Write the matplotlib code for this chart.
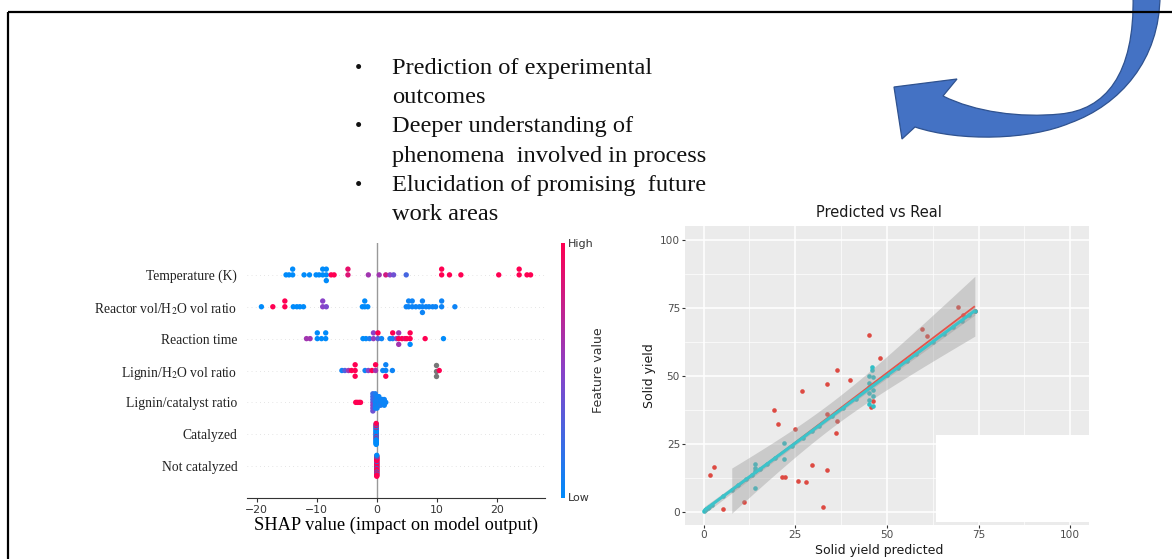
import numpy as np
import matplotlib
matplotlib.use("Agg")
import matplotlib.pyplot as plt
from matplotlib.colors import LinearSegmentedColormap
from matplotlib.path import Path
from matplotlib.patches import PathPatch, Rectangle

plt.rcParams['mathtext.fontset'] = 'stix'
plt.rcParams['font.family'] = ['DejaVu Sans']

W, H = 1172, 559
SERIF = 'Liberation Serif'

# ---------------- text data ----------------
bullet_lines = ["Prediction of experimental", "outcomes",
                "Deeper understanding of", "phenomena  involved in process",
                "Elucidation of promising  future", "work areas"]
bullet_marks = [True, False, True, False, True, False]

# ---------------- SHAP summary data ----------------
shap_features = ["Temperature (K)", "Reactor vol/H$_2$O vol ratio", "Reaction time",
                 "Lignin/H$_2$O vol ratio", "Lignin/catalyst ratio", "Catalyzed", "Not catalyzed"]

temp_shap = [-15.1, -14.6, -14.0, -14.0, -12.1, -11.2, -10.1, -9.6, -9.0, -9.0, -8.4, -8.4, -8.4,
             -7.6, -7.1, -4.8, -4.8, -1.4, 0.4, 1.5, 2.2, 2.8, 4.9,
             10.8, 10.8, 12.1, 14.0, 20.3, 23.7, 23.7, 25.0, 25.6]
temp_feat = [0.0, 0.0, 0.0, 0.0, 0.0, 0.0, 0.0, 0.0, 0.0, 0.0, 0.0, 0.0, 0.0,
             1.0, 1.0, 0.85, 0.9, 0.6, 0.6, 0.8, 0.5, 0.4, 0.25,
             1.0, 1.0, 1.0, 1.0, 1.0, 1.0, 1.0, 1.0, 1.0]

react_shap = [-19.2, -17.3, -15.3, -15.3, -13.9, -13.3, -12.8, -12.2, -9.0, -9.0, -8.4,
              -2.4, -2.0, -2.0, -1.5, 4.9, 5.3, 5.3, 5.9, 5.9, 6.5, 7.1, 7.6, 7.6, 7.6,
              8.2, 8.7, 9.3, 9.8, 10.8, 10.8, 13.0]
react_feat = [0.0, 1.0, 1.0, 1.0, 0.0, 0.0, 0.0, 0.0, 0.5, 0.5, 0.45,
              0.0, 0.0, 0.0, 0.0, 0.05, 0.05, 0.05, 0.05, 0.05, 0.05, 0.05, 0.05, 0.05, 0.05,
              0.05, 0.05, 0.05, 0.05, 0.05, 0.05, 0.05]

rt_shap = [-11.7, -11.1, -9.9, -9.9, -9.2, -8.5, -8.5, -2.3, -1.8, -1.2, -0.55, -0.55,
           0.2, 0.2, 0.8, 2.2, 2.65, 2.65, 3.3, 3.65, 3.65, 3.65, 4.2, 4.7, 5.0,
           5.55, 5.55, 5.55, 8.05, 11.1]
rt_feat = [0.6, 0.6, 0.0, 0.0, 0.0, 0.0, 0.0, 0.0, 0.0, 0.1, 0.55, 0.5,
           0.3, 1.0, 0.05, 0.05, 0.1, 1.0, 0.5, 1.0, 0.6, 0.6, 1.0, 0.9, 1.0,
           1.0, 1.0, 0.0, 1.0, 0.0]

lh_shap = [-5.8, -5.3, -4.7, -4.2, -3.6, -3.6, -3.6, -1.95, -1.4, -0.8, -0.2, -0.2,
           1.0, 1.5, 1.5, 1.5, 2.6, 9.8, 9.8, 9.8, 10.4]
lh_feat = [0.05, 0.3, 0.6, 1.0, 1.0, 1.0, 1.0, 0.05, 0.5, 1.0, 0.6, 1.0,
           0.05, 0.05, 0.05, 1.0, 0.05, np.nan, np.nan, np.nan, 1.0]

lc_shap = [-3.5, -3.25, -2.95, -2.7,
           -0.65, -0.65, -0.65, -0.65, -0.65, -0.65, -0.65,
           -0.25, -0.25, -0.25, -0.25, -0.25, -0.25,
           0.05, 0.05, 0.05, 0.05, 0.05,
           0.35, 0.35, 0.35, 0.35,
           0.65, 0.65, 0.65, 0.95, 0.95, 1.25, 1.25, 1.25, 1.5]
lc_feat = [1.0, 1.0, 1.0, 1.0,
           0.45, 0.3, 0.5, 0.25, 0.45, 0.2, 0.4,
           0.05, 0.1, 0.05, 0.15, 0.05, 0.1,
           0.05, 0.05, 0.1, 0.05, 0.05,
           0.05, 0.1, 0.05, 0.05,
           0.05, 0.05, 0.1, 0.05, 0.05, 0.05, 0.05, 0.05, 0.05]

cat_shap = [-0.1, -0.1, -0.1, -0.1, -0.1, -0.1, -0.1, -0.1, -0.1, -0.1, -0.1, -0.1, -0.1, -0.1, -0.1, -0.1,
            -0.1, -0.1, -0.1, -0.1, -0.1, -0.1, -0.1, -0.1, -0.1, -0.1, -0.1, -0.1, -0.1, -0.1, -0.1, -0.1]
cat_feat = [0, 0, 0, 1, 0, 0, 0, 0, 1, 0, 0, 0, 0, 0, 1, 0,
            0, 0, 0, 1, 0, 0, 0, 0, 0, 1, 0, 1, 0, 0, 0, 1]

notcat_shap = [0.0, 0.0, 0.0, 0.0, 0.0, 0.0, 0.0, 0.0, 0.0, 0.0, 0.0, 0.0, 0.0, 0.0, 0.0, 0.0,
               0.0, 0.0, 0.0, 0.0, 0.0, 0.0, 0.0, 0.0, 0.0, 0.0, 0.0, 0.0, 0.0, 0.0, 0.0, 0.0]
notcat_feat = [1, 1, 1, 0, 1, 1, 1, 1, 0, 1, 1, 1, 1, 0, 1, 1,
               1, 1, 0, 1, 1, 1, 1, 1, 0, 1, 1, 0, 1, 1, 1, 0]

shap_rows = [temp_shap, react_shap, rt_shap, lh_shap, lc_shap, cat_shap, notcat_shap]
feat_rows = [temp_feat, react_feat, rt_feat, lh_feat, lc_feat, cat_feat, notcat_feat]
shap_xticks = [-20, -10, 0, 10, 20]

# ---------------- Predicted vs Real data ----------------
red_pred = [1.8, 2.95, 5.4, 11.1, 19.3, 20.4, 21.3, 22.3, 25.0, 25.7, 26.9, 27.9, 29.6, 32.5,
            33.7, 33.7, 33.7, 36.3, 36.3, 36.0, 40.0, 45.1, 46.1, 45.6, 48.1, 59.5, 60.9,
            69.5, 74.0, 70.8]
red_real = [13.4, 16.5, 0.8, 3.4, 37.4, 32.2, 12.8, 12.8, 30.5, 11.3, 44.5, 11.0, 17.2, 1.5,
            47.0, 15.4, 35.8, 52.1, 33.5, 29.0, 48.4, 65.0, 40.8, 38.6, 56.4, 67.3, 64.6,
            75.2, 73.8, 72.5]
red_fit_range = [7.7, 74.0]

cyan_pred = [0.2, 0.5, 0.8, 1.2, 1.6, 2.2, 5.3, 7.8, 9.5, 11.5, 13.2, 15.5, 17.2, 19.6, 24.0,
             27.0, 29.5, 31.5, 35.0, 38.0, 41.5, 50.0, 53.0, 55.5, 58.0, 62.5, 65.5, 68.0,
             70.5, 72.5, 74.0,
             14.1, 14.1, 14.1, 14.1, 22.0, 22.0,
             46.0, 46.0, 45.0, 46.3, 45.0, 45.0, 46.3, 45.0, 46.3, 45.0, 45.0, 46.3]
cyan_real = [0.3, 0.6, 1.0, 1.3, 1.8, 2.4, 5.6, 8.0, 9.6, 11.8, 13.6, 15.8, 17.6, 19.8, 24.2,
             27.2, 29.8, 31.6, 35.2, 38.2, 41.6, 50.2, 53.0, 55.6, 58.0, 62.4, 65.4, 67.8,
             70.3, 72.3, 73.8,
             17.4, 16.2, 15.0, 8.5, 25.3, 19.2,
             53.3, 52.1, 49.9, 49.4, 47.5, 45.8, 44.8, 43.6, 42.4, 41.2, 39.7, 39.0]
reg_ticks = [0, 25, 50, 75, 100]
reg_minor = [12.5, 37.5, 62.5, 87.5]


# ---------------- helpers ----------------
def swarm_offsets(vals, row_height=0.4, nbins=100):
    vals = np.asarray(vals, float)
    n = len(vals)
    quant = np.round(nbins * (vals - vals.min()) / (vals.max() - vals.min() + 1e-8))
    inds = np.argsort(quant, kind='stable')
    layer, last_bin = 0, -1
    ys = np.zeros(n)
    for ind in inds:
        if quant[ind] != last_bin:
            layer = 0
        ys[ind] = np.ceil(layer / 2) * ((layer % 2) * 2 - 1)
        layer += 1
        last_bin = quant[ind]
    ys *= 0.9 * (row_height / np.max(ys + 1))
    return ys


def lm_band(x, y, xs):
    x = np.asarray(x, float); y = np.asarray(y, float)
    n = len(x)
    b, a = np.polyfit(x, y, 1)
    resid = y - (a + b * x)
    s = np.sqrt(np.sum(resid ** 2) / (n - 2))
    t = 1.96 + 2.5 / (n - 2)
    se = s * np.sqrt(1.0 / n + (xs - x.mean()) ** 2 / np.sum((x - x.mean()) ** 2))
    fit = a + b * xs
    return fit, fit - t * se, fit + t * se


# ---------------- figure ----------------
fig = plt.figure(figsize=(W / 100, H / 100), dpi=100)
fig.patch.set_facecolor('white')

cmap = LinearSegmentedColormap.from_list('shap_rb', ['#008bfb', '#8a42c8', '#ff0052'])

# SHAP summary axes
axs = fig.add_axes([247 / W, 1 - 498 / H, 298 / W, 255 / H])
nfeat = len(shap_features)
for i in range(nfeat):
    pos = nfeat - 1 - i
    vals = np.asarray(shap_rows[i], float)
    feats = np.asarray(feat_rows[i], float)
    axs.axhline(pos, color='#cccccc', lw=0.5, dashes=(1, 5), zorder=-1)
    ys = swarm_offsets(vals)
    nan = np.isnan(feats)
    if nan.any():
        axs.scatter(vals[nan], pos + ys[nan], color='#777777', s=15, lw=0, zorder=3)
    axs.scatter(vals[~nan], pos + ys[~nan], c=feats[~nan], cmap=cmap, vmin=0, vmax=1,
                s=15, lw=0, zorder=3)
axs.axvline(0, color='#999999', lw=1.0, zorder=-1)
axs.set_xlim(-21.6, 28.0)
axs.set_ylim(-1, 7)
axs.set_yticks(range(nfeat))
axs.set_yticklabels(shap_features[::-1], fontfamily=SERIF, fontsize=9.8)
axs.set_xticks(shap_xticks)
axs.set_xticklabels([f"{t}" if t >= 0 else f"\u2212{-t}" for t in shap_xticks], fontsize=7.8)
for side in ['top', 'right', 'left']:
    axs.spines[side].set_visible(False)
axs.spines['bottom'].set_color('#333333')
axs.tick_params(axis='y', length=0, pad=7, labelcolor='#222222')
axs.tick_params(axis='x', length=3, color='#333333', labelcolor='#333333', pad=2)
axs.set_facecolor('none')
axs.set_xlabel("SHAP value (impact on model output)", fontfamily=SERIF, fontsize=13.2,
               labelpad=1.5)

# colour bar
axc = fig.add_axes([561 / W, 1 - 498 / H, 3.5 / W, 255 / H])
axc.imshow(np.linspace(0, 1, 256)[:, None], aspect='auto', origin='lower', cmap=cmap)
axc.axis('off')
fig.text(568 / W, 1 - 244 / H, "High", ha='left', va='center', fontsize=8, color='#333333')
fig.text(568 / W, 1 - 498 / H, "Low", ha='left', va='center', fontsize=8, color='#333333')
fig.text(598 / W, 1 - 370 / H, "Feature value", ha='center', va='center', rotation=90,
         fontsize=9, color='#333333')

# Predicted vs Real axes (ggplot style)
axr = fig.add_axes([685.2 / W, 1 - 525.1 / H, 403.3 / W, 298.7 / H])
axr.set_facecolor('#EBEBEB')
for sp in axr.spines.values():
    sp.set_visible(False)
axr.set_xlim(-5, 105)
axr.set_ylim(-5, 105)
axr.set_xticks(reg_ticks)
axr.set_yticks(reg_ticks)
axr.set_xticks(reg_minor, minor=True)
axr.set_yticks(reg_minor, minor=True)
axr.grid(which='major', color='white', lw=1.1)
axr.grid(which='minor', color='white', lw=0.5)
axr.set_axisbelow(True)
axr.tick_params(which='minor', length=0)
axr.tick_params(which='major', length=2.2, width=0.8, color='#333333', labelcolor='#4D4D4D',
                labelsize=7.6, pad=1.5)

axr.scatter(red_pred, red_real, s=11, color='#DD4A42', lw=0, zorder=2)
axr.scatter(cyan_pred, cyan_real, s=11, color='#2FBFC6', lw=0, zorder=2)

xs_red = np.linspace(red_fit_range[0], red_fit_range[1], 120)
fr, lr, hr = lm_band(red_pred, red_real, xs_red)
xs_cy = np.linspace(min(cyan_pred), max(cyan_pred), 120)
fc, lc_, hc = lm_band(cyan_pred, cyan_real, xs_cy)
axr.fill_between(xs_red, lr, hr, color='#999999', alpha=0.4, lw=0, zorder=3)
axr.fill_between(xs_cy, lc_, hc, color='#999999', alpha=0.4, lw=0, zorder=3)
axr.plot(xs_red, fr, color='#E5544B', lw=1.3, zorder=4, solid_capstyle='butt')
axr.plot(xs_cy, fc, color='#3CC3CA', lw=2.2, zorder=5, solid_capstyle='butt')

axr.set_xlabel("Solid yield predicted", fontsize=9, color='#1A1A1A')
axr.set_ylabel("Solid yield", fontsize=9, color='#1A1A1A')
axr.xaxis.set_label_coords((879 - 685.2) / 403.3, (525.1 - 544) / 298.7)
axr.yaxis.set_label_coords((656 - 685.2) / 403.3, 0.5)
fig.text(879 / W, 1 - 213 / H, "Predicted vs Real", ha='center', va='center',
         fontsize=10.5, color='#1A1A1A')

# ---------------- decorations (pixel coordinates) ----------------
deco = fig.add_axes([0, 0, 1, 1], zorder=10)
deco.set_xlim(0, W)
deco.set_ylim(H, 0)
deco.axis('off')

# white mask over the lower-right of the regression panel
deco.add_patch(Rectangle((936, 435), 160, 87, facecolor='white', edgecolor='none', zorder=1))

# curved arrow
verts = [(1160, -5),
         (1160, 60), (1120, 105), (1070, 123),
         (1030, 140), (960, 142), (915, 127),
         (902, 139), (894, 87), (957, 79), (943, 96),
         (975, 112), (1020, 118), (1060, 114),
         (1105, 110), (1135, 75), (1133, -5),
         (1160, -5)]
codes = [Path.MOVETO,
         Path.CURVE4, Path.CURVE4, Path.CURVE4,
         Path.CURVE4, Path.CURVE4, Path.CURVE4,
         Path.LINETO, Path.LINETO, Path.LINETO, Path.LINETO,
         Path.CURVE4, Path.CURVE4, Path.CURVE4,
         Path.CURVE4, Path.CURVE4, Path.CURVE4,
         Path.CLOSEPOLY]
deco.add_patch(PathPatch(Path(verts, codes), facecolor='#4472C4', edgecolor='#2F528F',
                         lw=0.9, zorder=2))

# frame lines
deco.plot([7.5, W], [11.5, 11.5], color='black', lw=1.6, zorder=3, solid_capstyle='butt')
deco.plot([7.5, 7.5], [11.5, H], color='black', lw=1.6, zorder=3, solid_capstyle='butt')

# bullet list
baselines = [74, 103, 132, 162, 191, 220]
for txt, mark, yb in zip(bullet_lines, bullet_marks, baselines):
    if mark:
        deco.text(358, yb, "\u2022", ha='center', va='baseline', fontfamily=SERIF,
                  fontsize=15, color='#111111', zorder=4)
    deco.text(392, yb, txt, ha='left', va='baseline', fontfamily=SERIF, fontsize=17.6,
              color='#111111', zorder=4)

fig.savefig("out.png", dpi=100)
